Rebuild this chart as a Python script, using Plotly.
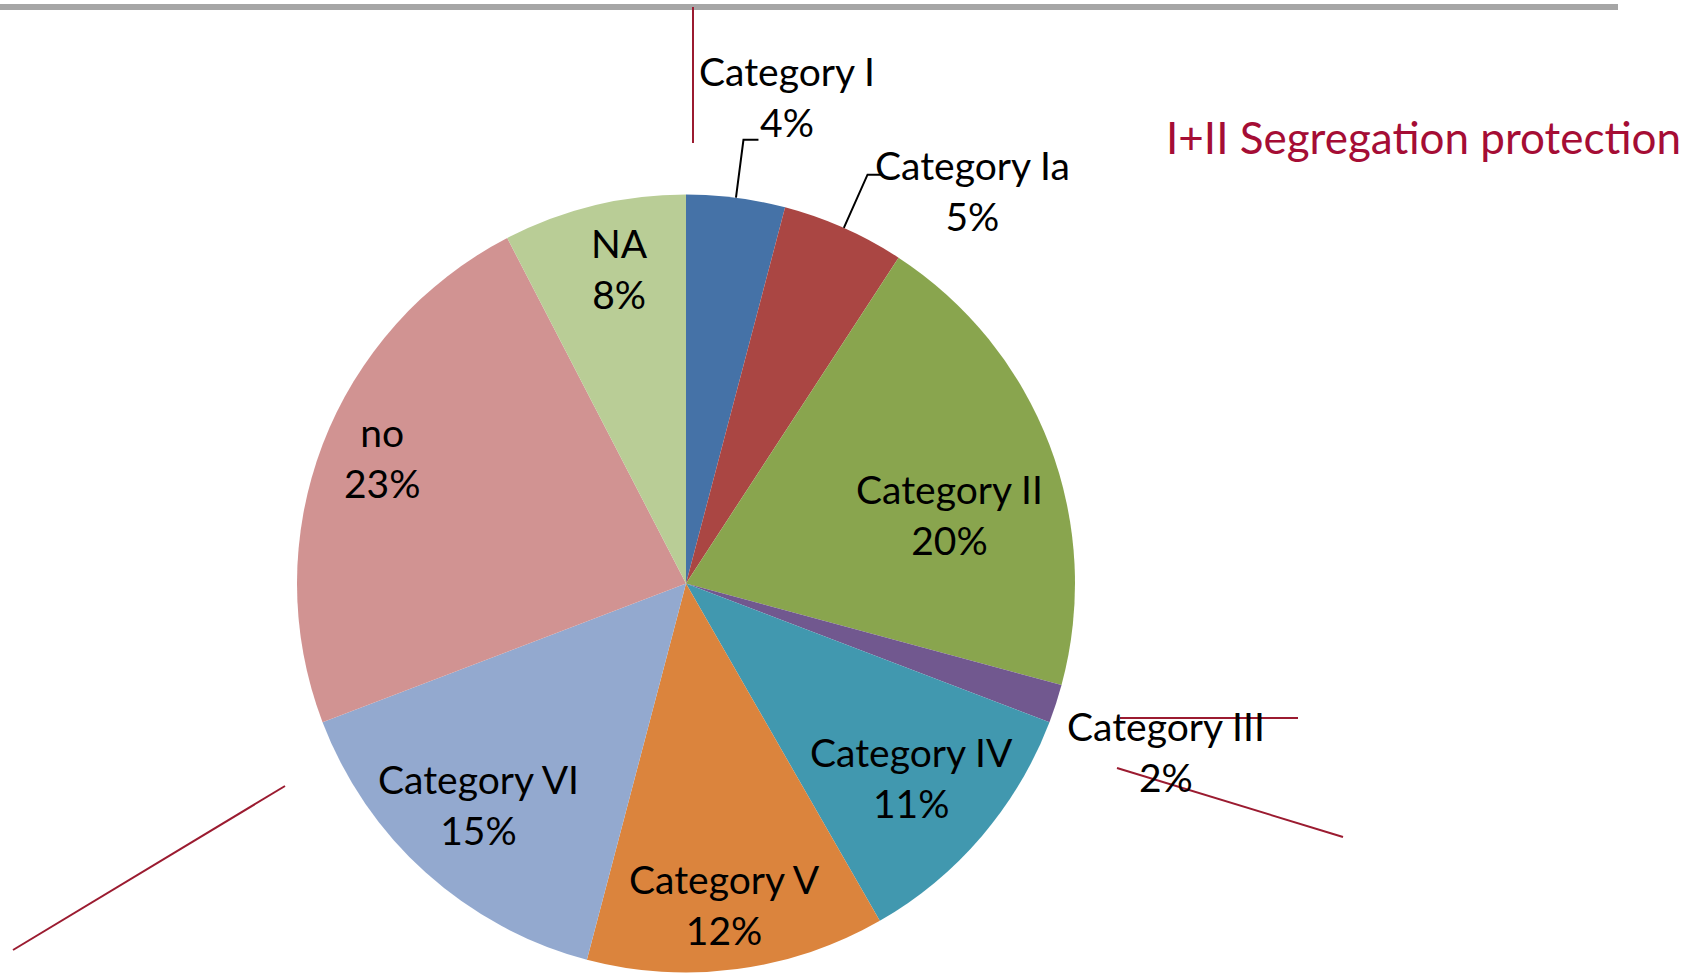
import math
import plotly.graph_objects as go

# slice data (clockwise from 12 o'clock)
categories = ['Category I', 'Category Ia', 'Category II', 'Category III', 'Category IV',
              'Category V', 'Category VI', 'no', 'NA']
shares = [4.1, 5.1, 20.0, 1.6, 10.9, 12.4, 15.1, 23.2, 7.6]
colors = ['#4572A7', '#AA4643', '#89A54E', '#71588F', '#4198AF',
          '#DB843D', '#93A9CF', '#D19392', '#B9CD96']

# label placement tuning: radius factor and angle nudge (deg) per slice
label_r = [1.278, 1.25, 0.70, 1.308, 0.763, 0.83, 0.78, 0.846, 0.827]
label_turn = [4.4, 12.1, 6.1, 1.3, 0.2, 0.7, 1.2, 1.7, 1.7]
leader = [True, True, False, False, False, False, False, False, False]

W, H = 1691, 980
cx, cy, R = 686, 583.5, 389
font = 'Lato, Open Sans, sans-serif'
red = '#9B1B30'


def px(x):
    return x / W


def py(y):
    return 1 - y / H


def polar(deg, r):
    a = math.radians(deg)
    return cx + r * math.sin(a), cy - r * math.cos(a)


fig = go.Figure(go.Pie(
    labels=categories, values=shares, sort=False, direction='clockwise',
    marker=dict(colors=colors, line=dict(width=0)),
    textinfo='none', hoverinfo='label+percent', showlegend=False,
    domain=dict(x=[px(cx - R), px(cx + R)], y=[py(cy + R), py(cy - R)]),
))

total = sum(shares)
start = 0
shapes = []
for name, v, rf, turn, ld in zip(categories, shares, label_r, label_turn, leader):
    mid = (start + v / 2) / total * 360
    start += v
    lx, ly = polar(mid + turn, rf * R)
    fig.add_annotation(x=px(lx), y=py(ly), xref='paper', yref='paper',
                       text=f'{name}<br>{round(v / total * 100)}%', showarrow=False,
                       xanchor='center', yanchor='middle',
                       font=dict(family=font, size=39, color='black'))
    if ld:
        x0, y0 = polar(mid, R)
        x1, y1 = polar(mid, 1.15 * R)
        shapes.append(dict(type='path', xref='paper', yref='paper',
                           path=f'M {px(x0)} {py(y0)} L {px(x1)} {py(y1)} L {px(x1 + 15)} {py(y1)}',
                           line=dict(color='black', width=2)))

fig.add_annotation(x=px(1423), y=py(137), xref='paper', yref='paper',
                   text='I+II Segregation protection', showarrow=False,
                   xanchor='center', yanchor='middle',
                   font=dict(family=font, size=44, color='#A50D35'))

# decorative lines
shapes += [
    dict(type='line', xref='paper', yref='paper', x0=0, x1=px(1618), y0=py(7), y1=py(7),
         line=dict(color='#A6A6A6', width=6)),
    dict(type='line', xref='paper', yref='paper', x0=px(693), x1=px(693), y0=py(7), y1=py(143),
         line=dict(color=red, width=2)),
    dict(type='line', xref='paper', yref='paper', x0=px(1120), x1=px(1298), y0=py(718), y1=py(718),
         line=dict(color=red, width=2)),
    dict(type='line', xref='paper', yref='paper', x0=px(1117), x1=px(1343), y0=py(768), y1=py(837),
         line=dict(color=red, width=2)),
    dict(type='line', xref='paper', yref='paper', x0=px(13), x1=px(285), y0=py(950), y1=py(786),
         line=dict(color=red, width=2)),
]

fig.update_layout(width=W, height=H, margin=dict(l=0, r=0, t=0, b=0),
                  paper_bgcolor='white', plot_bgcolor='white', shapes=shapes)

fig.write_html('out.html', config={'displayModeBar': False},
               post_script="document.body.style.margin='0';")
